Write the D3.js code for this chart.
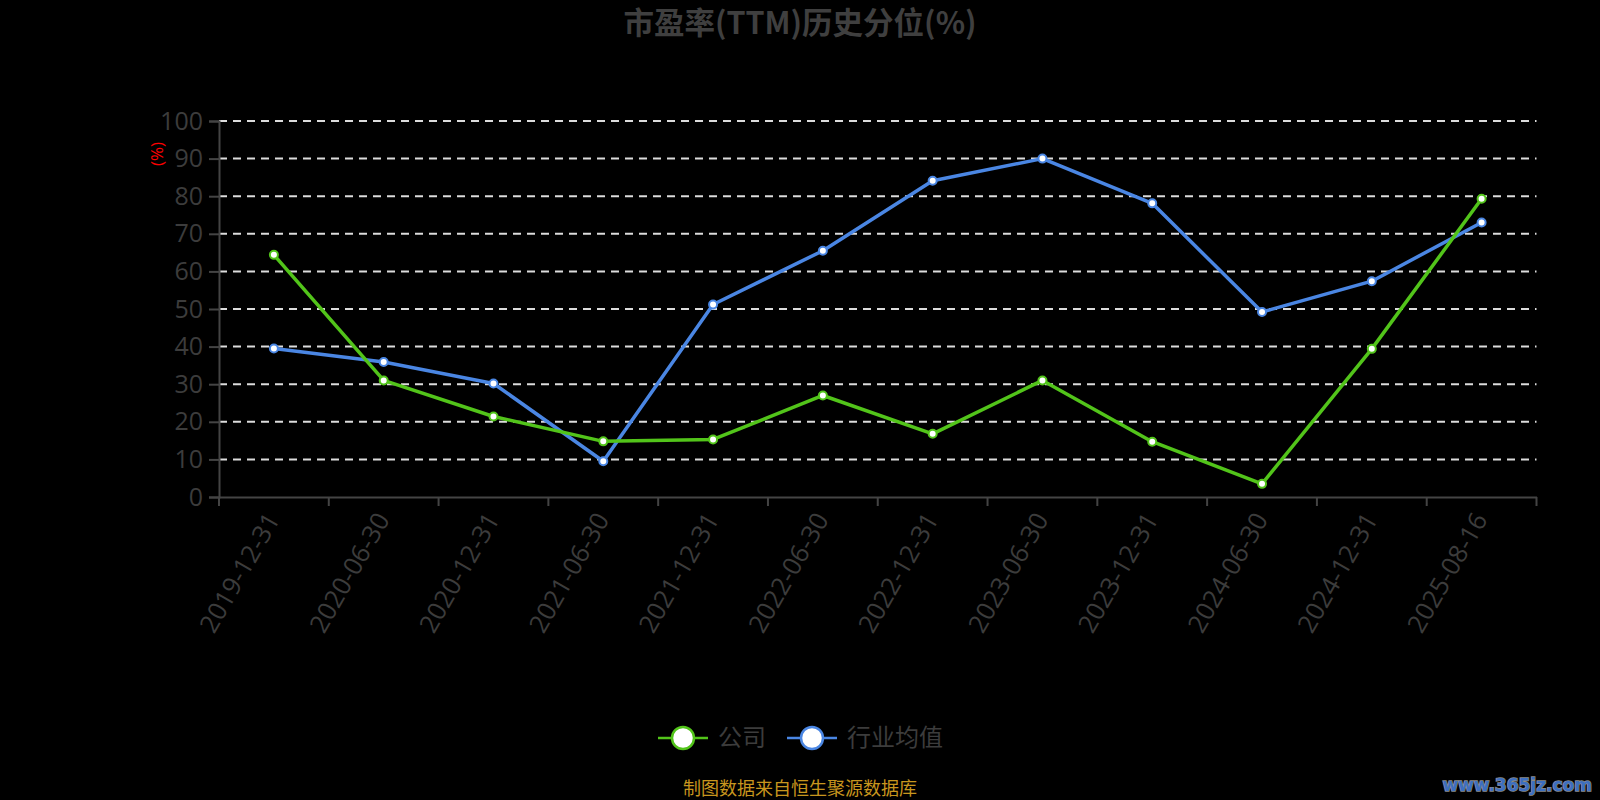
<!DOCTYPE html>
<html>
<head>
<meta charset="utf-8">
<script src="https://cdn.jsdelivr.net/npm/d3@7"></script>
<style>
  html, body { margin: 0; padding: 0; background: #000; }
  svg { display: block; }
</style>
</head>
<body>
<svg id="chart" width="1600" height="800"></svg>
<script>
const categories = ["2019-12-31","2020-06-30","2020-12-31","2021-06-30","2021-12-31","2022-06-30","2022-12-31","2023-06-30","2023-12-31","2024-06-30","2024-12-31","2025-08-16"];
const companyValues = [64.4, 31.0, 21.4, 14.8, 15.3, 27.0, 16.8, 31.0, 14.7, 3.5, 39.4, 79.3];
const industryValues = [39.5, 35.9, 30.2, 9.5, 51.2, 65.5, 84.1, 90.0, 78.1, 49.2, 57.4, 73.0];
const yTicks = [0, 10, 20, 30, 40, 50, 60, 70, 80, 90, 100];
const seriesNames = ["公司", "行业均值"];
const seriesColors = ["#52c41a", "#4a86e3"];
const titleText = "市盈率(TTM)历史分位(%)";
const footerText = "制图数据来自恒生聚源数据库";

(function () {
const svg = d3.select("#chart");
const W = 1600, H = 800;
const plotLeft = 219, plotRight = 1536.5, plotTop = 121, plotBottom = 497;
const fontLatin = "'Open Sans', 'Noto Sans CJK SC', sans-serif";
const fontCJK = "'Noto Sans CJK SC', 'Open Sans', sans-serif";
const labelColor = "#3c3c3c";

svg.append("rect").attr("width", W).attr("height", H).attr("fill", "#000");

const x = d3.scaleBand().domain(categories).range([plotLeft, plotRight]).padding(0);
const y = d3.scaleLinear().domain([0, 100]).range([plotBottom, plotTop]);

// grid lines
svg.append("g").selectAll("line").data(yTicks.filter(d => d > 0)).join("line")
  .attr("x1", plotLeft).attr("x2", plotRight)
  .attr("y1", d => y(d)).attr("y2", d => y(d))
  .attr("stroke", "#dcdcdc").attr("stroke-width", 2)
  .attr("stroke-dasharray", "8,6");

// y axis
const yAxis = d3.axisLeft(y).tickValues(yTicks).tickSize(10).tickPadding(6);
const gy = svg.append("g").attr("transform", `translate(${plotLeft},0)`).call(yAxis);
gy.select(".domain").attr("stroke", "#444").attr("stroke-width", 2);
gy.selectAll(".tick line").attr("stroke", "#444").attr("stroke-width", 2);
gy.selectAll(".tick text").attr("fill", labelColor).attr("font-size", 25)
  .attr("font-family", fontLatin);

// x axis
const xAxis = d3.axisBottom(x).tickSize(0).tickFormat(d => d);
const gx = svg.append("g").attr("transform", `translate(0,${plotBottom})`).call(xAxis);
gx.select(".domain").attr("stroke", "#444").attr("stroke-width", 2);
gx.selectAll(".tick text")
  .attr("fill", labelColor).attr("font-size", 25.5).attr("font-family", fontLatin)
  .attr("text-anchor", "end")
  .attr("dy", "0.35em")
  .attr("y", 0).attr("x", 0)
  .attr("transform", "translate(-1,18) rotate(-60)");
// boundary ticks
const boundaries = categories.map(c => x(c)).concat([x(categories[categories.length - 1]) + x.bandwidth()]);
svg.append("g").selectAll("line").data(boundaries).join("line")
  .attr("x1", d => d).attr("x2", d => d)
  .attr("y1", plotBottom).attr("y2", plotBottom + 9)
  .attr("stroke", "#444").attr("stroke-width", 2);

// y axis name
svg.append("text")
  .attr("transform", `translate(157,154) rotate(-90)`)
  .attr("text-anchor", "middle").attr("dy", "0.35em")
  .attr("fill", "#ff0000").attr("font-size", 17).attr("font-family", fontLatin)
  .text("(%)");

// lines
const seriesData = [companyValues, industryValues];
const cx = (d, i) => x(categories[i]) + x.bandwidth() / 2;
const line = d3.line().x((d, i) => cx(d, i)).y(d => y(d));
[1, 0].forEach(si => {
  svg.append("path").datum(seriesData[si])
    .attr("d", line).attr("fill", "none")
    .attr("stroke", seriesColors[si]).attr("stroke-width", 3.5)
    .attr("stroke-linejoin", "round");
});
[1, 0].forEach(si => {
  svg.append("g").selectAll("circle").data(seriesData[si]).join("circle")
    .attr("cx", (d, i) => cx(d, i)).attr("cy", d => y(d))
    .attr("r", 4).attr("fill", "#fff")
    .attr("stroke", seriesColors[si]).attr("stroke-width", 2);
});

// title
svg.append("text")
  .attr("x", 800).attr("y", 23).attr("dy", "0.35em")
  .attr("text-anchor", "middle").attr("font-size", 30.5).attr("font-weight", "bold")
  .attr("fill", "#3f3f3f").attr("font-family", fontCJK)
  .text(titleText);

// legend
const legendItems = [
  { name: seriesNames[0], color: seriesColors[0], x0: 658 },
  { name: seriesNames[1], color: seriesColors[1], x0: 787 }
];
const lg = svg.append("g");
legendItems.forEach(it => {
  lg.append("line").attr("x1", it.x0).attr("x2", it.x0 + 50)
    .attr("y1", 738).attr("y2", 738)
    .attr("stroke", it.color).attr("stroke-width", 2.5);
  lg.append("circle").attr("cx", it.x0 + 25).attr("cy", 738).attr("r", 11)
    .attr("fill", "#fff").attr("stroke", it.color).attr("stroke-width", 2.5);
  lg.append("text").attr("x", it.x0 + 60).attr("y", 738).attr("dy", "0.35em")
    .attr("font-size", 24).attr("fill", labelColor).attr("font-family", fontCJK)
    .text(it.name);
});

// footer
svg.append("text")
  .attr("x", 800).attr("y", 789).attr("dy", "0.35em")
  .attr("text-anchor", "middle").attr("font-size", 18)
  .attr("fill", "#c8961e").attr("font-family", fontCJK)
  .text(footerText);

// watermark
svg.append("text")
  .attr("x", 1592).attr("y", 785).attr("dy", "0.35em")
  .attr("text-anchor", "end").attr("font-size", 17).attr("font-weight", "bold")
  .attr("font-family", "'DejaVu Sans', sans-serif")
  .attr("fill", "#3d6fc0").attr("stroke", "#8a8a8a").attr("stroke-width", 1.5)
  .attr("paint-order", "stroke")
  .text("www.365jz.com");
})();
</script>
</body>
</html>
